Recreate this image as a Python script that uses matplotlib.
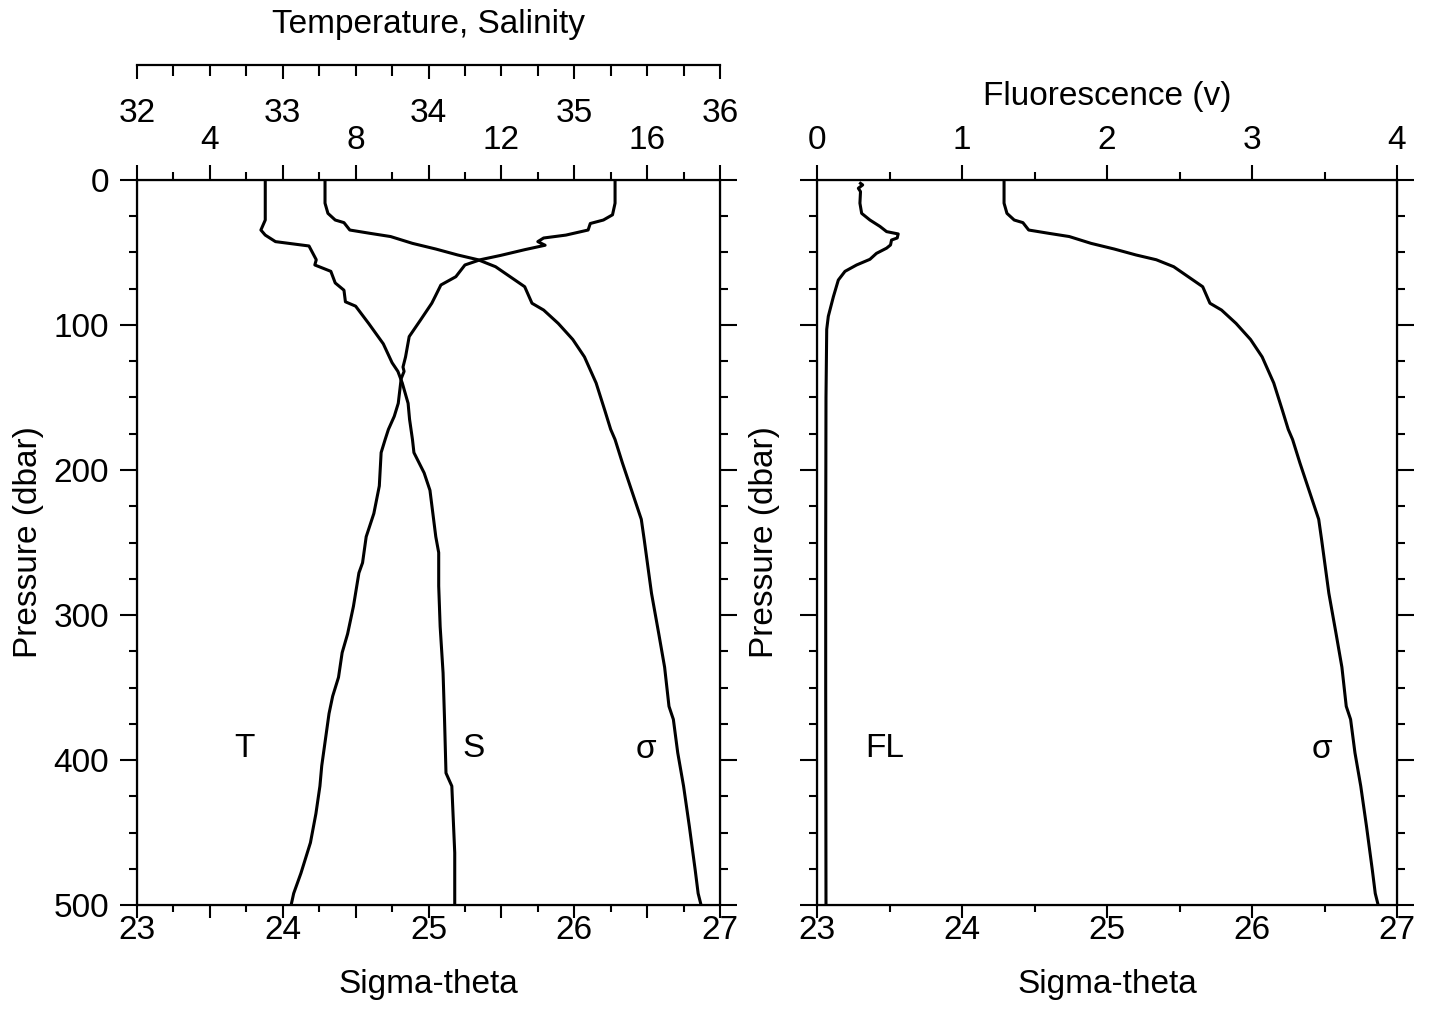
import numpy as np
import matplotlib
matplotlib.use('Agg')
import matplotlib.pyplot as plt
from matplotlib.ticker import MultipleLocator, FuncFormatter

plt.rcParams['font.family'] = ['Liberation Sans', 'DejaVu Sans']
plt.rcParams['font.size'] = 24

# profiles (pressure in dbar)
pres_t = [0, 16, 24, 27.6, 30, 34.5, 38, 40, 42.5, 45, 48, 52, 55, 58.6, 66.7, 72.4,
          80, 85, 96.6, 108, 122, 129, 132, 137, 154, 163, 172, 179, 188, 211, 230,
          246, 264, 271, 294, 313, 326, 343, 356, 368, 386, 404, 418, 437, 457, 478,
          492, 500]
temp = [15.12, 15.12, 15.05, 14.80, 14.44, 14.38, 13.77, 13.16, 13.00, 13.20, 12.65,
        11.98, 11.42, 11.00, 10.75, 10.34, 10.19, 10.09, 9.78, 9.47, 9.37, 9.30, 9.33,
        9.25, 9.17, 9.06, 8.90, 8.81, 8.70, 8.65, 8.50, 8.29, 8.19, 8.09, 7.94, 7.78,
        7.63, 7.53, 7.37, 7.27, 7.17, 7.07, 7.02, 6.91, 6.76, 6.50, 6.30, 6.23]

pres_s = [0, 16, 27.6, 34.5, 38, 42.5, 45.5, 55, 58.6, 63, 71, 76, 84, 87, 99, 113, 126,
          132, 140, 154, 165, 179, 188, 202, 214, 230, 246, 257, 280, 308, 340, 372,
          409, 418, 464, 500]
sal = [32.88, 32.88, 32.88, 32.85, 32.88, 32.95, 33.18, 33.23, 33.22, 33.33, 33.36,
       33.42, 33.43, 33.50, 33.59, 33.69, 33.75, 33.79, 33.82, 33.86, 33.87, 33.89,
       33.90, 33.97, 34.01, 34.03, 34.05, 34.07, 34.07, 34.08, 34.10, 34.11, 34.12,
       34.16, 34.18, 34.18]

pres_sig = [0, 16, 23, 27.6, 29.4, 34.5, 36.8, 39, 43.7, 47.6, 51.7, 55, 59.8, 66.7,
            73.6, 85, 89.7, 98.9, 110, 122, 140, 159, 172, 179, 195, 216, 234, 248,
            285, 313, 336, 363, 372, 395, 418, 446, 476, 492, 500]
sigma = [24.29, 24.29, 24.31, 24.36, 24.42, 24.46, 24.60, 24.74, 24.89, 25.05, 25.20,
         25.34, 25.46, 25.56, 25.66, 25.71, 25.79, 25.89, 25.99, 26.07, 26.15, 26.21,
         26.25, 26.28, 26.33, 26.40, 26.46, 26.48, 26.53, 26.58, 26.62, 26.65, 26.68,
         26.71, 26.75, 26.79, 26.83, 26.85, 26.87]

pres_fl = [2.3, 3.4, 5.7, 8, 16, 23, 27.6, 32, 35.6, 37.2, 40, 41.4, 44.8, 47, 50.6,
           54.7, 58.6, 63, 69, 80.5, 94, 103, 150, 250, 350, 500]
fluor = [0.30, 0.315, 0.285, 0.30, 0.296, 0.308, 0.365, 0.434, 0.48, 0.56, 0.553,
         0.514, 0.507, 0.48, 0.41, 0.365, 0.273, 0.193, 0.147, 0.113, 0.078, 0.067,
         0.062, 0.06, 0.06, 0.062]


def int_only(v, pos):
    return f'{v:.0f}' if abs(v - round(v)) < 1e-6 else ''


def temp_fmt(v, pos):
    return f'{v:.0f}' if round(v) in (4, 8, 12, 16) and abs(v - round(v)) < 1e-6 else ''


LW = 2.2
fig = plt.figure(figsize=(14.3, 10.11), dpi=100)
ax1 = fig.add_axes([137 / 1430, 106 / 1011, 583 / 1430, 725 / 1011])
ax2 = fig.add_axes([817 / 1430, 106 / 1011, 580 / 1430, 725 / 1011])

for ax in (ax1, ax2):
    ax.plot(sigma, pres_sig, color='k', lw=LW)
    ax.set_xlim(23, 27)
    ax.set_ylim(500, 0)
    ax.yaxis.set_major_locator(MultipleLocator(100))
    ax.yaxis.set_minor_locator(MultipleLocator(25))
    ax.tick_params(which='both', direction='out', top=False, right=True, width=1.5)
    ax.tick_params(axis='y', which='major', length=12, pad=8)
    ax.tick_params(axis='y', which='minor', length=6)
    ax.tick_params(axis='x', which='major', length=9, pad=-2)
    ax.tick_params(axis='x', which='minor', length=5)
    ax.set_xlabel('Sigma-theta', labelpad=17)
    ax.set_ylabel('Pressure (dbar)')
    for s in ax.spines.values():
        s.set_linewidth(1.6)

ax1.xaxis.set_major_locator(MultipleLocator(0.5))
ax1.xaxis.set_minor_locator(MultipleLocator(0.25))
ax1.xaxis.set_major_formatter(FuncFormatter(int_only))
ax1.yaxis.set_label_coords(-0.16, 0.5)

ax2.xaxis.set_major_locator(MultipleLocator(1))
ax2.xaxis.set_minor_locator(MultipleLocator(0.5))
ax2.tick_params(labelleft=False)
ax2.yaxis.set_label_coords(-0.064, 0.5)

# temperature scale on the top spine
axT = ax1.twiny()
axT.plot(temp, pres_t, color='k', lw=LW)
axT.set_xlim(2, 18)
axT.xaxis.set_major_locator(MultipleLocator(2))
axT.xaxis.set_minor_locator(MultipleLocator(1))
axT.xaxis.set_major_formatter(FuncFormatter(temp_fmt))
axT.tick_params(which='both', direction='out', width=1.5)
axT.tick_params(which='major', length=11, pad=6)
axT.tick_params(which='minor', length=6)

# salinity scale on the detached upper bar
axS = ax1.twiny()
axS.plot(sal, pres_s, color='k', lw=LW)
axS.set_xlim(32, 36)
axS.spines['top'].set_position(('outward', 83))
axS.spines['top'].set_linewidth(1.6)
for k in ('left', 'right', 'bottom'):
    axS.spines[k].set_visible(False)
axS.xaxis.set_major_locator(MultipleLocator(1))
axS.xaxis.set_minor_locator(MultipleLocator(0.25))
axS.tick_params(which='both', direction='in', width=1.5)
axS.tick_params(which='major', length=10, pad=-46)
axS.tick_params(which='minor', length=8)

# fluorescence scale
axF = ax2.twiny()
axF.plot(fluor, pres_fl, color='k', lw=LW)
axF.set_xlim(0, 4)
axF.xaxis.set_major_locator(MultipleLocator(1))
axF.xaxis.set_minor_locator(MultipleLocator(0.5))
axF.tick_params(which='both', direction='out', width=1.5)
axF.tick_params(which='major', length=11, pad=6)
axF.tick_params(which='minor', length=6)

ax1.text(23.74, 392, 'T', ha='center', va='center')
ax1.text(25.31, 392, 'S', ha='center', va='center')
ax1.text(26.49, 393, 'σ', ha='center', va='center')
ax2.text(23.47, 392, 'FL', ha='center', va='center')
ax2.text(26.48, 393, 'σ', ha='center', va='center')

fig.text(428 / 1430, 1 - 25 / 1011, 'Temperature, Salinity', ha='center', va='center')
fig.text(1107 / 1430, 1 - 96 / 1011, 'Fluorescence (v)', ha='center', va='center')

fig.savefig('out.png', dpi=100)
